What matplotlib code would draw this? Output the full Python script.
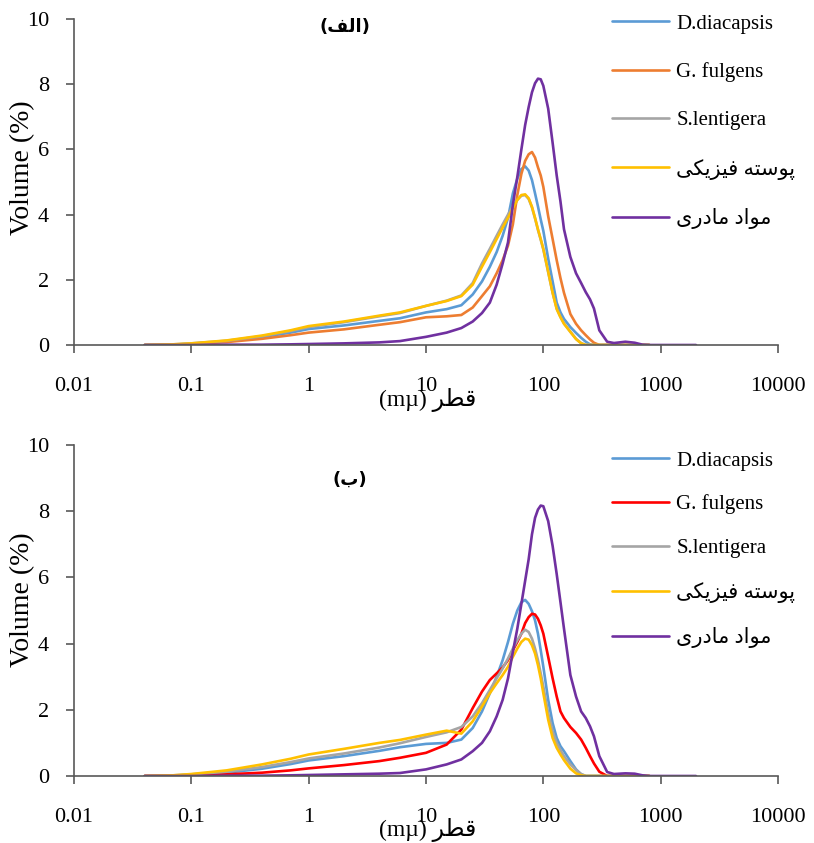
import numpy as np
import matplotlib
matplotlib.use("Agg")
import matplotlib.pyplot as plt

# simple Persian shaping (matplotlib has no shaping / bidi)
FORMS = {
    'ا': ('\uFE8D', '\uFE8E', None, None),
    'ب': ('\uFE8F', '\uFE90', '\uFE91', '\uFE92'),
    'پ': ('\uFB56', '\uFB57', '\uFB58', '\uFB59'),
    'ت': ('\uFE95', '\uFE96', '\uFE97', '\uFE98'),
    'د': ('\uFEA9', '\uFEAA', None, None),
    'ر': ('\uFEAD', '\uFEAE', None, None),
    'ز': ('\uFEAF', '\uFEB0', None, None),
    'س': ('\uFEB1', '\uFEB2', '\uFEB3', '\uFEB4'),
    'ط': ('\uFEC1', '\uFEC2', '\uFEC3', '\uFEC4'),
    'ف': ('\uFED1', '\uFED2', '\uFED3', '\uFED4'),
    'ق': ('\uFED5', '\uFED6', '\uFED7', '\uFED8'),
    'ک': ('\uFB8E', '\uFB8F', '\uFB90', '\uFB91'),
    'ل': ('\uFEDD', '\uFEDE', '\uFEDF', '\uFEE0'),
    'م': ('\uFEE1', '\uFEE2', '\uFEE3', '\uFEE4'),
    'ه': ('\uFEE9', '\uFEEA', '\uFEEB', '\uFEEC'),
    'و': ('\uFEED', '\uFEEE', None, None),
    'ی': ('\uFBFC', '\uFBFD', '\uFBFE', '\uFBFF'),
}


def fa(text):
    out = []
    for i, ch in enumerate(text):
        if ch not in FORMS:
            out.append(ch)
            continue
        prev = text[i - 1] if i > 0 else ''
        nxt = text[i + 1] if i + 1 < len(text) else ''
        join_prev = prev in FORMS and FORMS[prev][2] is not None
        join_next = nxt in FORMS and FORMS[ch][2] is not None
        iso, fin, ini, med = FORMS[ch]
        if join_prev and join_next:
            out.append(med)
        elif join_prev:
            out.append(fin)
        elif join_next:
            out.append(ini)
        else:
            out.append(iso)
    return ''.join(out)[::-1]


size_um = [0.04, 0.07, 0.1, 0.2, 0.4, 0.7, 1, 2, 4, 6, 10, 15, 20, 25, 30, 35, 40, 45, 50,
           55, 60, 65, 70, 75, 80, 85, 90, 95, 100, 110, 120, 130, 140, 150, 170, 190,
           210, 230, 250, 270, 300, 350, 400, 500, 600, 700, 800, 1000, 1500, 2000]

n = np.nan

# panel (alef)
a_diacapsis = [0, 0.01, 0.04, 0.11, 0.24, 0.38, 0.49, 0.6, 0.74, 0.82, 1.0, 1.1, 1.22, 1.55, 1.95,
               2.4, 2.85, 3.35, 3.9, 4.65, 5.1, 5.4, 5.48, 5.35, 5.06, 4.65, 4.25, 3.85, 3.5, 2.65,
               1.95, 1.3, 1.0, 0.8, 0.55, 0.37, 0.22, 0.1, 0.02, 0, 0, 0, 0, 0, 0, 0, 0, n, n, n]
a_fulgens = [0, 0.01, 0.03, 0.09, 0.19, 0.3, 0.38, 0.48, 0.62, 0.7, 0.85, 0.88, 0.92, 1.15, 1.5,
             1.8, 2.2, 2.6, 3.05, 3.7, 4.6, 5.25, 5.65, 5.85, 5.92, 5.75, 5.45, 5.2, 4.85, 3.95,
             3.25, 2.6, 2.05, 1.6, 0.95, 0.65, 0.45, 0.3, 0.17, 0.07, 0, 0, 0, 0, 0, 0, 0, n, n, n]
a_lentigera = [0, 0.02, 0.05, 0.13, 0.27, 0.43, 0.55, 0.7, 0.88, 0.98, 1.2, 1.36, 1.52, 1.9, 2.5,
               2.95, 3.35, 3.7, 4.0, 4.25, 4.45, 4.58, 4.6, 4.48, 4.22, 3.88, 3.53, 3.23, 2.93, 2.23,
               1.6, 1.12, 0.86, 0.66, 0.41, 0.19, 0.06, 0, 0, 0, 0, 0, 0, 0, 0, 0, 0, n, n, n]
a_physical = [0, 0.02, 0.05, 0.14, 0.29, 0.45, 0.58, 0.72, 0.9, 1.0, 1.2, 1.35, 1.5, 1.85, 2.4,
              2.85, 3.25, 3.6, 3.9, 4.2, 4.45, 4.6, 4.62, 4.5, 4.24, 3.9, 3.55, 3.25, 2.95, 2.25,
              1.6, 1.1, 0.85, 0.65, 0.4, 0.18, 0.05, 0, 0, 0, 0, 0, 0, 0, 0, 0, 0, n, n, n]
a_parent = [0, 0, 0, 0.01, 0.01, 0.02, 0.03, 0.05, 0.08, 0.12, 0.25, 0.38, 0.52, 0.72, 0.98,
            1.3, 1.85, 2.5, 3.15, 4.3, 5.15, 6.0, 6.75, 7.3, 7.75, 8.03, 8.17, 8.15, 7.95, 7.25,
            6.2, 5.2, 4.4, 3.55, 2.7, 2.2, 1.9, 1.62, 1.4, 1.12, 0.45, 0.1, 0.06, 0.1, 0.07,
            0.01, 0, 0, 0, 0]

# panel (be)
b_diacapsis = [0, 0.01, 0.04, 0.1, 0.22, 0.36, 0.47, 0.6, 0.76, 0.87, 0.97, 1.0, 1.1, 1.45, 1.95,
               2.5, 3.0, 3.5, 4.05, 4.6, 5.0, 5.25, 5.32, 5.2, 4.98, 4.7, 4.3, 3.8, 3.3, 2.3,
               1.6, 1.15, 0.9, 0.75, 0.45, 0.2, 0.05, 0, 0, 0, 0, 0, 0, 0, 0, 0, 0, n, n, n]
b_fulgens = [0, 0.01, 0.02, 0.05, 0.1, 0.17, 0.23, 0.33, 0.45, 0.55, 0.7, 0.95, 1.4, 2.05, 2.55,
             2.9, 3.1, 3.28, 3.5, 3.8, 4.05, 4.3, 4.62, 4.8, 4.9, 4.88, 4.75, 4.55, 4.3, 3.6,
             2.95, 2.4, 1.95, 1.75, 1.48, 1.3, 1.1, 0.85, 0.6, 0.38, 0.13, 0, 0, 0, 0, 0, 0, n, n, n]
b_lentigera = [0, 0.02, 0.05, 0.13, 0.27, 0.42, 0.53, 0.68, 0.86, 0.99, 1.18, 1.32, 1.48, 1.8, 2.2,
               2.6, 2.95, 3.25, 3.55, 3.85, 4.1, 4.3, 4.42, 4.35, 4.15, 3.85, 3.5, 3.1, 2.7, 1.9,
               1.35, 1.0, 0.78, 0.6, 0.35, 0.18, 0.06, 0, 0, 0, 0, 0, 0, 0, 0, 0, 0, n, n, n]
b_physical = [0, 0.02, 0.06, 0.17, 0.35, 0.52, 0.65, 0.82, 1.0, 1.09, 1.25, 1.37, 1.28, 1.65, 2.1,
              2.5, 2.8, 3.05, 3.3, 3.6, 3.85, 4.05, 4.15, 4.12, 3.95, 3.7, 3.35, 2.95, 2.5, 1.7,
              1.15, 0.85, 0.65, 0.48, 0.22, 0.08, 0.02, 0, 0, 0, 0, 0, 0, 0, 0, 0, 0, n, n, n]
b_parent = [0, 0, 0, 0.01, 0.01, 0.02, 0.03, 0.05, 0.07, 0.09, 0.2, 0.35, 0.5, 0.75, 1.0,
            1.35, 1.8, 2.3, 2.95, 3.75, 4.45, 5.2, 5.9, 6.55, 7.3, 7.8, 8.05, 8.17, 8.15, 7.7,
            6.95, 6.1, 5.25, 4.45, 3.05, 2.4, 1.95, 1.75, 1.5, 1.2, 0.6, 0.12, 0.06, 0.08, 0.07,
            0.02, 0, 0, 0, 0]

labels = ['D.diacapsis', 'G. fulgens', 'S.lentigera', fa('پوسته فیزیکی'), fa('مواد مادری')]
colors_a = ['#5B9BD5', '#ED7D31', '#A5A5A5', '#FFC000', '#7030A0']
colors_b = ['#5B9BD5', '#FF0000', '#A5A5A5', '#FFC000', '#7030A0']
x_ticks = [0.01, 0.1, 1, 10, 100, 1000, 10000]
x_ticklabels = ['0.01', '0.1', '1', '10', '100', '1000', '10000']

W, H = 814, 843
fig = plt.figure(figsize=(W / 100, H / 100), dpi=100)
serif = ['Liberation Serif', 'DejaVu Sans']
spine_c = '#595959'


def panel(top_px, bot_px, series, colors, tag, tag_xy, leg_top, leg_pitch, ylab_y, xlab_y):
    ax = fig.add_axes([74 / W, 1 - bot_px / H, (778 - 74) / W, (bot_px - top_px) / H])
    for ys, c, lab in zip(series, colors, labels):
        ax.plot(size_um, ys, color=c, lw=1.9, label=lab, solid_capstyle='round')
    ax.set_xscale('log')
    ax.set_xlim(0.01, 10000)
    ax.set_ylim(0, 10)
    ax.set_yticks([0, 2, 4, 6, 8, 10])
    ax.set_xticks(x_ticks)
    ax.set_xticklabels(x_ticklabels)
    ax.minorticks_off()
    for s in ['top', 'right']:
        ax.spines[s].set_visible(False)
    for s in ['left', 'bottom']:
        ax.spines[s].set_color(spine_c)
        ax.spines[s].set_linewidth(1.2)
    ax.tick_params(axis='x', length=6, width=1.2, color=spine_c, pad=17, labelsize=16)
    ax.tick_params(axis='y', length=6, width=1.2, color=spine_c, pad=12, labelsize=16)
    for t in ax.get_xticklabels() + ax.get_yticklabels():
        t.set_family(serif)
    fs = 15
    ax.legend(loc='upper left', bbox_to_anchor=(612 / W, 1 - leg_top / H),
              bbox_transform=fig.transFigure, frameon=False, borderpad=0,
              borderaxespad=0, handlelength=57 / (fs * 100 / 72),
              handletextpad=0.35, labelspacing=leg_pitch,
              prop={'family': serif, 'size': fs})
    fig.text(tag_xy[0] / W, 1 - tag_xy[1] / H, tag, ha='center', va='center',
             fontsize=13, fontweight='bold', family=['DejaVu Sans'])
    fig.text(23 / W, 1 - ylab_y / H, 'Volume (%)', rotation=90, ha='center',
             va='center', fontsize=20, family=serif)
    fig.text(428 / W, 1 - xlab_y / H, '(mµ) ' + fa('قطر'), ha='center', va='center',
             fontsize=17, family=serif)
    return ax


panel(19, 345, [a_diacapsis, a_fulgens, a_lentigera, a_physical, a_parent], colors_a,
      '(' + fa('الف') + ')', (345, 27), 14, 1.37, 168, 400)
panel(445, 776, [b_diacapsis, b_fulgens, b_lentigera, b_physical, b_parent], colors_b,
      '(' + fa('ب') + ')', (350, 480), 451, 1.15, 600, 830)

fig.savefig('out.png', dpi=100)
